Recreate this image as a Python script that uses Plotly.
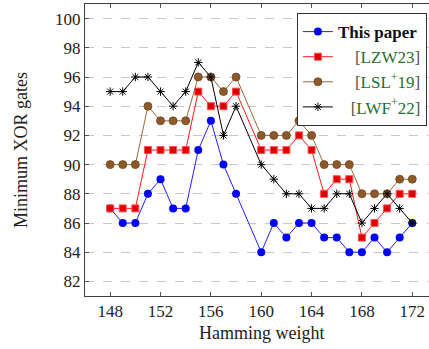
import plotly.graph_objects as go

hamming_weight = [148, 149, 150, 151, 152, 153, 154, 155, 156, 157, 158,
                  160, 161, 162, 163, 164, 165, 166, 167, 168, 169, 170, 171, 172]
this_paper = [87, 86, 86, 88, 89, 87, 87, 91, 93, 90, 88,
              84, 86, 85, 86, 86, 85, 85, 84, 84, 85, 84, 85, 86]
lzw23 = [87, 87, 87, 91, 91, 91, 91, 95, 94, 94, 95,
         91, 91, 91, 92, 91, 88, 89, 89, 85, 86, 87, 88, 88]
lsl19 = [90, 90, 90, 94, 93, 93, 93, 96, 96, 95, 96,
         92, 92, 92, 93, 92, 90, 90, 90, 88, 88, 88, 89, 89]
lwf22 = [95, 95, 96, 96, 95, 94, 95, 97, 96, 92, 94,
         90, 89, 88, 88, 87, 87, 88, 88, 86, 87, 88, 87, 86]

x_ticks = [148, 152, 156, 160, 164, 168, 172]
y_ticks = [82, 84, 86, 88, 90, 92, 94, 96, 98, 100]

FONT = "Liberation Serif"
GREEN = "#2b6e2b"
BR = "#555555"

def cite(key):
    return (f"<span style='color:{BR}'>[</span><span style='color:{GREEN}'>{key}</span>"
            f"<span style='color:{BR}'>]</span>")

fig = go.Figure()
fig.add_trace(go.Scatter(
    x=hamming_weight, y=this_paper, mode="lines+markers",
    name="<b>This paper</b>",
    line=dict(color="#2020ff", width=1),
    marker=dict(symbol="circle", size=8, color="#0000ff", line=dict(width=0)),
))
fig.add_trace(go.Scatter(
    x=hamming_weight, y=lzw23, mode="lines+markers",
    name="&nbsp;&nbsp;&nbsp;&nbsp;" + cite("LZW23"),
    line=dict(color="#ff1a1a", width=1),
    marker=dict(symbol="square", size=7, color="#dd0000", line=dict(width=1, color="#ff5050")),
))
fig.add_trace(go.Scatter(
    x=hamming_weight, y=lsl19, mode="lines+markers",
    name="&nbsp;&nbsp;&nbsp;&nbsp;" + cite("LSL<sup>+</sup>19"),
    line=dict(color="#9a6a3a", width=1),
    marker=dict(symbol="circle", size=8, color="#8c5a2a", line=dict(width=0.8, color="#6e4520")),
))
fig.add_trace(go.Scatter(
    x=hamming_weight, y=lwf22, mode="lines+markers",
    name="&nbsp;&nbsp;&nbsp;" + cite("LWF<sup>+</sup>22"),
    line=dict(color="#000000", width=1),
    marker=dict(symbol="asterisk-open", size=7, color="#000000", line=dict(width=1, color="#000000")),
))

fig.update_layout(
    width=429, height=349,
    margin=dict(l=85, r=0, t=4, b=53, autoexpand=False),
    paper_bgcolor="white", plot_bgcolor="white",
    font=dict(family=FONT, size=17, color="#222222"),
    showlegend=True,
    legend=dict(
        x=0.994, xanchor="right", y=0.969, yanchor="top",
        bgcolor="white", bordercolor="#333333", borderwidth=1,
        font=dict(family=FONT, size=17, color="#111111"),
        tracegroupgap=0,
        entrywidth=118, entrywidthmode="pixels",
    ),
    xaxis=dict(
        range=[146, 173.33], tickmode="array", tickvals=x_ticks,
        ticks="inside", ticklen=4, tickcolor="#555555", tickwidth=1,
        showline=True, linecolor="#404040", linewidth=1, mirror="ticks",
        showgrid=False, zeroline=False, automargin=False,
        tickfont=dict(family=FONT, size=17, color="#222222"),
    ),
    yaxis=dict(
        range=[81, 101], tickmode="array", tickvals=y_ticks,
        ticks="inside", ticklen=4, tickcolor="#555555", tickwidth=1,
        showline=True, linecolor="#404040", linewidth=1, mirror=False,
        showgrid=True, gridcolor="#c8c8c8", griddash="dash", gridwidth=1,
        zeroline=False, automargin=False,
        tickfont=dict(family=FONT, size=17, color="#222222"),
    ),
    annotations=[
        dict(text="Minimum XOR gates", xref="paper", yref="paper",
             x=-0.186, y=0.5, xanchor="center", yanchor="middle",
             textangle=-90, showarrow=False,
             font=dict(family=FONT, size=18, color="#222222")),
        dict(text="Hamming weight", xref="x", yref="paper",
             x=160, y=-0.127, xanchor="center", yanchor="middle",
             showarrow=False,
             font=dict(family=FONT, size=18, color="#222222")),
    ],
)

fig.write_html("out.html",
               config={"displayModeBar": False},
               post_script="document.body.style.margin='0px';document.body.style.overflow='hidden';")
